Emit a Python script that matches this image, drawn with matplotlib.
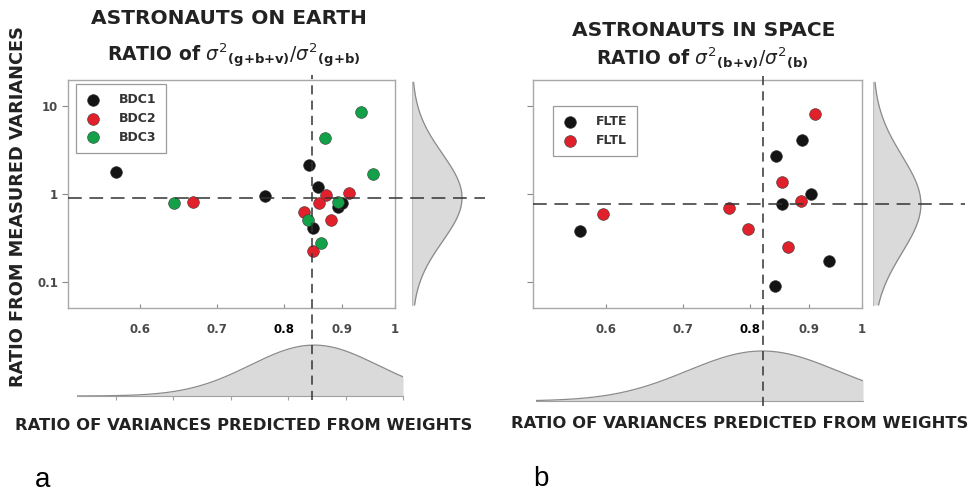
import numpy as np
import matplotlib.pyplot as plt
from matplotlib.lines import Line2D
from matplotlib.transforms import blended_transform_factory

# ---- data ----
# panel a: astronauts on earth
bdc1_x = [0.571, 0.771, 0.842, 0.857, 0.892, 0.899, 0.849]
bdc1_y = [1.79, 0.957, 2.11, 1.21, 0.717, 0.796, 0.416]
bdc2_x = [0.667, 0.871, 0.911, 0.859, 0.833, 0.880, 0.848]
bdc2_y = [0.818, 0.974, 1.035, 0.780, 0.629, 0.50, 0.228]
bdc3_x = [0.642, 0.935, 0.869, 0.957, 0.892, 0.840, 0.862]
bdc3_y = [0.784, 8.48, 4.30, 1.68, 0.818, 0.507, 0.275]

# panel b: astronauts in space
flte_x = [0.570, 0.842, 0.888, 0.903, 0.852, 0.936, 0.841]
flte_y = [0.380, 2.70, 4.11, 1.00, 0.77, 0.175, 0.091]
fltl_x = [0.597, 0.911, 0.853, 0.886, 0.767, 0.796, 0.863]
fltl_y = [0.597, 8.18, 1.38, 0.833, 0.688, 0.397, 0.252]

# means and spreads of the marginal normal curves
a_pred_mean, a_pred_sd = 0.845, 0.111      # predicted ratio (linear)
a_meas_mean, a_meas_sd = 0.908, 0.50       # measured ratio (sd in decades)
b_pred_mean, b_pred_sd = 0.821, 0.13
b_meas_mean, b_meas_sd = 0.764, 0.55

x_ticks = [0.6, 0.7, 0.8, 0.9, 1.0]
x_tick_labels = ["0.6", "0.7", "0.8", "0.9", "1"]
y_ticks = [0.1, 1, 10]
y_tick_labels = ["0.1", "1", "10"]

BLACK = "#141414"
RED = "#e0202a"
GREEN = "#12a048"
GRAY_TXT = "#4a4a4a"
SPINE = "#a8a8a8"
FILL = "#dadada"
DASH = "#333333"

plt.rcParams["font.family"] = ["DejaVu Sans"]
plt.rcParams["mathtext.fontset"] = "dejavusans"

fig = plt.figure(figsize=(9.7, 4.92), dpi=100)
W, H = 970.0, 492.0


def rect(x0, y0, x1, y1):
    # pixel box (top-left origin) -> figure fraction
    return [x0 / W, (H - y1) / H, (x1 - x0) / W, (y1 - y0) / H]


def normal(u, m, s):
    return np.exp(-0.5 * ((u - m) / s) ** 2)


def main_panel(box, groups, vline, hline, vspan, hspan, leg_anchor, show_y):
    ax = fig.add_axes(rect(*box))
    ax.set_xscale("log")
    ax.set_yscale("log")
    for name, xs, ys, c in groups:
        ax.scatter(xs, ys, s=72, c=c, edgecolors="#3a3a3a", linewidths=0.4,
                   label=name, zorder=3)
    ax.set_xlim(0.519, 1.0)
    ax.set_ylim(0.0507, 19.7)
    ax.set_xticks(x_ticks)
    ax.set_xticklabels(x_tick_labels)
    ax.set_yticks(y_ticks)
    ax.set_yticklabels(y_tick_labels if show_y else [])
    ax.xaxis.set_minor_locator(plt.NullLocator())
    ax.yaxis.set_minor_locator(plt.NullLocator())
    ax.tick_params(axis="x", direction="in", length=3, color="#888888",
                   pad=11, labelsize=8.5, labelcolor=GRAY_TXT)
    ax.tick_params(axis="y", direction="out", length=4, color="#888888",
                   pad=3, labelsize=8.5, labelcolor=GRAY_TXT)
    for lab in ax.get_xticklabels() + ax.get_yticklabels():
        lab.set_fontweight("bold")
    ax.get_xticklabels()[2].set_color("black")
    for sp in ax.spines.values():
        sp.set_color(SPINE)
        sp.set_linewidth(1.0)
    leg = ax.legend(loc="upper left", bbox_to_anchor=leg_anchor, borderaxespad=0,
                    fancybox=False, edgecolor="#9a9a9a", framealpha=1,
                    prop={"weight": "bold", "size": 9}, handletextpad=1.5,
                    labelspacing=0.45, borderpad=0.75, handlelength=1.2,
                    markerscale=1.0)
    leg.get_frame().set_linewidth(0.9)
    for t in leg.get_texts():
        t.set_color("#333333")
    # dashed reference lines running past the axes
    tv = blended_transform_factory(ax.transData, fig.transFigure)
    fig.add_artist(Line2D([vline, vline], vspan, transform=tv, color=DASH,
                          lw=1.1, ls=(0, (6, 4)), zorder=5))
    th = blended_transform_factory(fig.transFigure, ax.transData)
    fig.add_artist(Line2D(hspan, [hline, hline], transform=th, color=DASH,
                          lw=1.1, ls=(0, (9, 5)), zorder=5))
    return ax


def right_density(box, xmax, m, s):
    ax = fig.add_axes(rect(*box))
    ax.patch.set_visible(False)
    ax.set_yscale("log")
    ax.set_ylim(0.0507, 19.7)
    ax.set_xlim(0, xmax)
    yy = np.logspace(np.log10(0.055), np.log10(18.5), 300)
    xx = normal(np.log10(yy), np.log10(m), s)
    ax.fill_betweenx(yy, 0, xx, color=FILL, lw=0)
    ax.plot(xx, yy, color="#8a8a8a", lw=0.9)
    ax.plot([0, 0], [yy[0], yy[-1]], color="#bdbdbd", lw=0.9)
    ax.axis("off")


def bottom_density(box, xlim, ymax, m, s, ticks):
    ax = fig.add_axes(rect(*box))
    ax.patch.set_visible(False)
    ax.set_xlim(*xlim)
    ax.set_ylim(0, ymax)
    xx = np.linspace(xlim[0], xlim[1], 300)
    yy = normal(xx, m, s)
    ax.fill_between(xx, 0, yy, color=FILL, lw=0)
    ax.plot(xx, yy, color="#8a8a8a", lw=0.9)
    for k in ["top", "right", "left"]:
        ax.spines[k].set_visible(False)
    ax.spines["bottom"].set_color("#a0a0a0")
    ax.set_yticks([])
    ax.set_xticks(ticks)
    ax.set_xticklabels([])
    ax.tick_params(axis="x", direction="out", length=3, color="#a0a0a0")


# ---- panel a ----
main_panel((68, 80, 395, 308),
           [("BDC1", bdc1_x, bdc1_y, BLACK),
            ("BDC2", bdc2_x, bdc2_y, RED),
            ("BDC3", bdc3_x, bdc3_y, GREEN)],
           0.847, a_meas_mean, [(H - 400) / H, (H - 75) / H], [68 / W, 485 / W],
           (0.024, 0.982), True)
right_density((412, 80, 470, 308), 1.16, a_meas_mean, a_meas_sd)
bottom_density((77, 340, 403, 396), (0.432, 1.0), 1.1, a_pred_mean, a_pred_sd,
               [0.5, 0.6, 0.7, 0.8, 0.9, 1.0])

# ---- panel b ----
main_panel((533, 80, 862, 308),
           [("FLTE", flte_x, flte_y, BLACK),
            ("FLTL", fltl_x, fltl_y, RED)],
           b_pred_mean, b_meas_mean, [(H - 406) / H, (H - 74) / H], [533 / W, 965 / W],
           (0.061, 0.886), False)
right_density((873, 80, 930, 308), 1.19, b_meas_mean, b_meas_sd)
bottom_density((536, 345, 863, 401), (0.427, 0.996), 1.12, b_pred_mean, b_pred_sd, [])

# ---- texts ----
TXT = dict(fontweight="bold", color="#222222", ha="center", va="center")
fig.text(229 / W, 1 - 19 / H, "ASTRONAUTS ON EARTH", fontsize=14.5, **TXT)
fig.text(234 / W, 1 - 56 / H,
         r"RATIO of $\sigma^{2}{}_{\mathbf{(g{+}b{+}v)}}/\sigma^{2}{}_{\mathbf{(g{+}b)}}$",
         fontsize=13.5, **TXT)
fig.text(704 / W, 1 - 31 / H, "ASTRONAUTS IN SPACE", fontsize=14.5, **TXT)
fig.text(702 / W, 1 - 58 / H,
         r"RATIO of $\sigma^{2}{}_{\mathbf{(b{+}v)}}/\sigma^{2}{}_{\mathbf{(b)}}$",
         fontsize=13.5, **TXT)
fig.text(18 / W, 1 - 207 / H, "RATIO FROM MEASURED VARIANCES", rotation=90,
         fontsize=12.8, **TXT)
fig.text(244 / W, 1 - 425 / H, "RATIO OF VARIANCES PREDICTED FROM WEIGHTS",
         fontsize=11.8, **TXT)
fig.text(740 / W, 1 - 424 / H, "RATIO OF VARIANCES PREDICTED FROM WEIGHTS",
         fontsize=11.8, **TXT)
fig.text(43 / W, 1 - 480 / H, "a", ha="center", va="center", fontsize=20,
         family="Liberation Sans")
fig.text(541 / W, 1 - 479 / H, "b", ha="center", va="center", fontsize=20,
         family="Liberation Sans")

fig.savefig("out.png", dpi=100)
